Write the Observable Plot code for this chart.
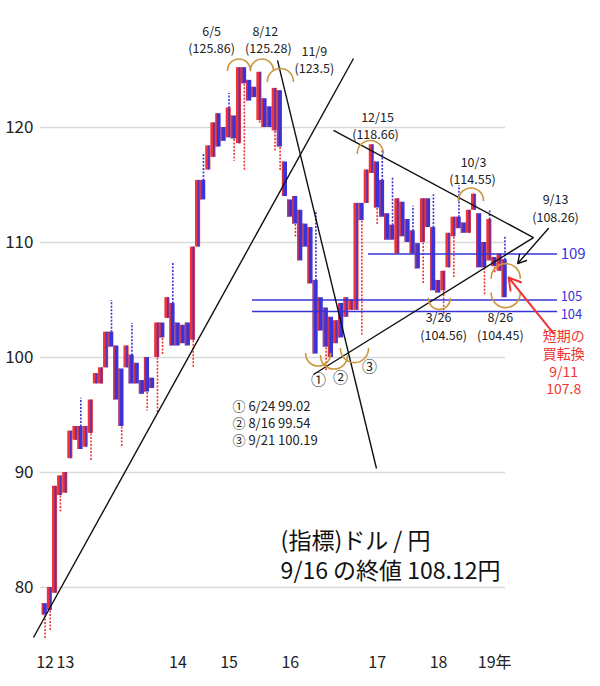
<!DOCTYPE html>
<html><head><meta charset="utf-8">
<script src="https://cdn.jsdelivr.net/npm/d3@7"></script>
<script src="https://cdn.jsdelivr.net/npm/@observablehq/plot@0.6"></script>
<style>body{margin:0;background:#fff}#chart svg{font-family:"Noto Sans CJK JP","Noto Sans",sans-serif}</style>
</head><body><div id="chart"></div>
<script>
// ---- data (USD/JPY bars) ----
const opens  = [78.6,78.0,79.5,88.0,88.2,91.2,92.8,94.0,92.2,93.4,97.7,97.7,99.1,102.2,101.0,99.0,99.1,100.2,99.5,98.0,100.0,98.2,100.0,103.0,103.4,104.7,103.0,102.8,103.0,101.5,109.6,115.4,116.3,117.4,121.2,120.0,119.1,121.0,118.6,125.2,124.1,123.5,120.6,122.5,121.8,119.7,123.2,117.0,113.7,114.0,112.8,111.6,111.3,106.7,105.2,104.3,103.5,101.2,104.7,103.5,104.1,104.1,113.4,113.4,116.0,117.0,115.4,112.5,111.5,109.0,113.5,112.0,111.0,109.9,110.0,113.8,111.3,106.7,105.8,107.8,110.5,112.2,111.7,110.8,112.8,112.5,110.0,108.4,108.7,107.5,108.5];
const closes = [77.6,80.0,88.8,89.7,90.0,93.6,94.0,92.0,94.0,96.3,98.6,99.1,102.2,100.9,96.3,94.0,101.0,97.7,97.7,96.8,97.0,97.3,103.0,101.7,105.2,101.0,101.0,101.2,101.0,109.6,115.4,113.7,118.4,120.4,118.3,118.8,121.7,119.0,125.2,123.8,122.3,122.6,124.8,120.0,120.0,123.4,118.3,114.0,112.2,111.6,108.4,109.6,106.4,100.3,102.3,100.9,100.0,103.2,101.7,105.2,105.0,113.4,111.9,116.3,118.5,113.0,112.2,110.2,110.2,113.8,110.5,110.0,109.0,107.7,113.8,111.3,105.8,105.6,107.5,110.8,112.2,111.2,110.8,112.8,114.2,107.8,107.8,112.0,107.9,109.0,105.2];
// dotted tails: [bar, end price]
const tails = [[0,75.5],[1,76.2],[3,86.5],[7,96.5],[9,91.0],[13,105.0],[15,92.2],[17,103.0],[20,95.4],[22,95.1],[23,100.3],[25,108.3],[29,99.1],[31,117.8],[36,123.0],[37,117.1],[38,122.6],[39,116.3],[42,120.4],[45,118.0],[46,116.3],[49,110.4],[53,112.8],[55,98.8],[62,102.0],[65,111.6],[66,118.0],[68,115.7],[72,113.2],[74,106.4],[76,114.2],[78,103.6],[80,107.0],[81,115.0],[86,105.5],[87,112.8],[88,107.3],[90,110.5]];
const gridValues = [80, 90, 100, 110, 120];
const yearLabels = ["12", "13", "14", "15", "16", "17", "18", "19年"];
const yearBars   = [0, 4, 26, 36, 48, 65, 77, 88];
const levels = [109, 105, 104];
const levelFrom = [63.3, 40.6, 40.6];
const levelTo = 100.3;
const levelDy = [0, -3, 3];
// trend lines: [bar1, price1, bar2, price2]
const trendLines = [
  [-2.26, 75.65, 60.36, 126.0],
  [45.49, 125.83, 64.86, 90.35],
  [56.45, 119.74, 95.59, 110.43],
  [52.53, 98.52, 95.59, 110.43]
];
// peak / trough labels: [bar, price, text]
const peakLabels = [
  [32.6, 128.30, "6/5"], [32.6, 126.83, "(125.86)"],
  [43.1, 128.30, "8/12"], [43.7, 126.83, "(125.28)"],
  [52.7, 126.56, "11/9"], [52.7, 125.09, "(123.5)"],
  [65.06, 120.82, "12/15"], [64.67, 119.35, "(118.66)"],
  [83.85, 116.91, "10/3"], [83.65, 115.44, "(114.55)"],
  [99.9, 113.69, "9/13"], [99.9, 112.13, "(108.26)"],
  [77.0, 103.43, "3/26"], [78.0, 101.87, "(104.56)"],
  [89.1, 103.43, "8/26"], [89.1, 101.87, "(104.45)"]
];
const circled = [[53.5, 98.0, "①"], [57.8, 98.17, "②"], [63.5, 99.2, "③"]];
const lowList = ["① 6/24 99.02", "② 8/16 99.54", "③ 9/21 100.19"];
const lowListY = [95.74, 94.26, 92.78];
// arcs over peaks: [bar1, bar2, price]
const capArcs = [[35.7, 40.2, 124.96], [40.2, 44.7, 124.96], [43.5, 48.6, 124.0], [61.1, 66.2, 117.74], [80.9, 85.8, 113.65], [87.3, 93.0, 106.9]];
// arcs under troughs
const cupArcs = [[51.0, 55.9, 100.35], [53.9, 59.2, 100.17], [57.8, 63.3, 100.78], [75.0, 79.3, 105.13], [87.3, 93.0, 105.6]];
const blackArrow = [98.5, 111.22, 92.5, 108.17];
const redArrow = [99.5, 102.09, 90.7, 106.96];
const redNote = ["短期の", "買転換", "9/11", "107.8"];
const redNoteY = [101.83, 100.26, 98.70, 97.22];
const titleLines = ["(指標)ドル / 円", "9/16 の終値 108.12円"];
const titleY = [84.0, 81.39];

// ---- chart ----
const RED = "#f03434", BLUE = "#3a34d8", GOLD = "#c9973f", INK = "#222";
const bars = opens.map((o, i) => ({i, o, c: closes[i], up: closes[i] >= o}));
const N = bars.length;
const font = '"Noto Sans CJK JP","Noto Sans",sans-serif';
const tailData = tails.map(([i, e]) => {
  const b = bars[i];
  const top = Math.max(b.o, b.c), bot = Math.min(b.o, b.c);
  return e > top ? {i, from: top, to: e, col: BLUE} : {i, from: bot, to: e, col: RED};
});

const chart = Plot.plot({
  width: 600, height: 686,
  marginLeft: 40, marginRight: 95, marginTop: 0, marginBottom: 41.5,
  x: {domain: [-0.5, N - 0.5], range: [42, 507], label: null},
  y: {domain: [75, 130], range: [644.5, 12], label: null},
  style: {fontFamily: font, background: "#fff"},
  marks: [
    Plot.ruleY(gridValues, {stroke: "#dadada", strokeWidth: 1.5}),
    Plot.axisY({ticks: gridValues, tickSize: 0, tickPadding: 7, fontSize: 17, fill: INK, label: null}),
    Plot.axisX({ticks: yearBars, tickFormat: d => yearLabels[yearBars.indexOf(d)], tickSize: 0, tickPadding: 12, fontSize: 16, fill: INK, label: null}),
    Plot.link(tailData, {x1: "i", x2: "i", y1: "from", y2: "to", stroke: "col", strokeWidth: 1.6, strokeDasharray: "2 1.5"}),
    Plot.rect(bars, {x1: d => d.i - 0.55, x2: d => d.i + 0.45, y1: "o", y2: "c", fill: d => d.up ? RED : BLUE}),
    Plot.rect(bars, {x1: d => d.up ? d.i - 0.05 : d.i - 0.55, x2: d => d.up ? d.i + 0.3 : d.i - 0.25, y1: "o", y2: "c", fill: d => d.up ? BLUE : RED, fillOpacity: 0.85}),
    Plot.ruleY(levels, {y: d => d, x1: (d, k) => levelFrom[k], x2: levelTo, stroke: BLUE, strokeWidth: 1.5}),
    Plot.text(levels.slice(0, 1), {x: 100.9, y: d => d, text: d => String(d), textAnchor: "start", fill: BLUE, fontSize: 15}),
    Plot.text(levels.slice(1, 2), {x: 100.9, y: d => d, dy: levelDy[1], text: d => String(d), textAnchor: "start", fill: BLUE, fontSize: 13}),
    Plot.text(levels.slice(2, 3), {x: 100.9, y: d => d, dy: levelDy[2], text: d => String(d), textAnchor: "start", fill: BLUE, fontSize: 13}),
    Plot.link(trendLines, {x1: d => d[0], y1: d => d[1], x2: d => d[2], y2: d => d[3], stroke: "#111", strokeWidth: 1.4}),
    Plot.arrow(capArcs, {x1: d => d[0], x2: d => d[1], y1: d => d[2], y2: d => d[2], bend: 90, headLength: 0, stroke: GOLD, strokeWidth: 1.6}),
    Plot.arrow(cupArcs, {x1: d => d[0], x2: d => d[1], y1: d => d[2], y2: d => d[2], bend: -90, headLength: 0, stroke: GOLD, strokeWidth: 1.6}),
    Plot.arrow([blackArrow], {x1: d => d[0], y1: d => d[1], x2: d => d[2], y2: d => d[3], stroke: "#111", strokeWidth: 1.4, headLength: 10}),
    Plot.arrow([redArrow], {x1: d => d[0], y1: d => d[1], x2: d => d[2], y2: d => d[3], stroke: RED, strokeWidth: 2, headLength: 10}),
    Plot.text(peakLabels, {x: d => d[0], y: d => d[1], text: d => d[2], fill: INK, fontSize: 12.5}),
    Plot.text(circled, {x: d => d[0], y: d => d[1], text: d => d[2], fill: INK, fontSize: 15}),
    Plot.text(lowList, {x: 36.68, y: (d, k) => lowListY[k], text: d => d, textAnchor: "start", fill: INK, fontSize: 13}),
    Plot.text(redNote, {x: 101.5, y: (d, k) => redNoteY[k], text: d => d, fill: RED, fontSize: 14}),
    Plot.text(titleLines, {x: 46.1, y: (d, k) => titleY[k], text: d => d, textAnchor: "start", fill: "#111", fontSize: 23})
  ]
});
document.getElementById("chart").append(chart);
</script>
</body></html>
